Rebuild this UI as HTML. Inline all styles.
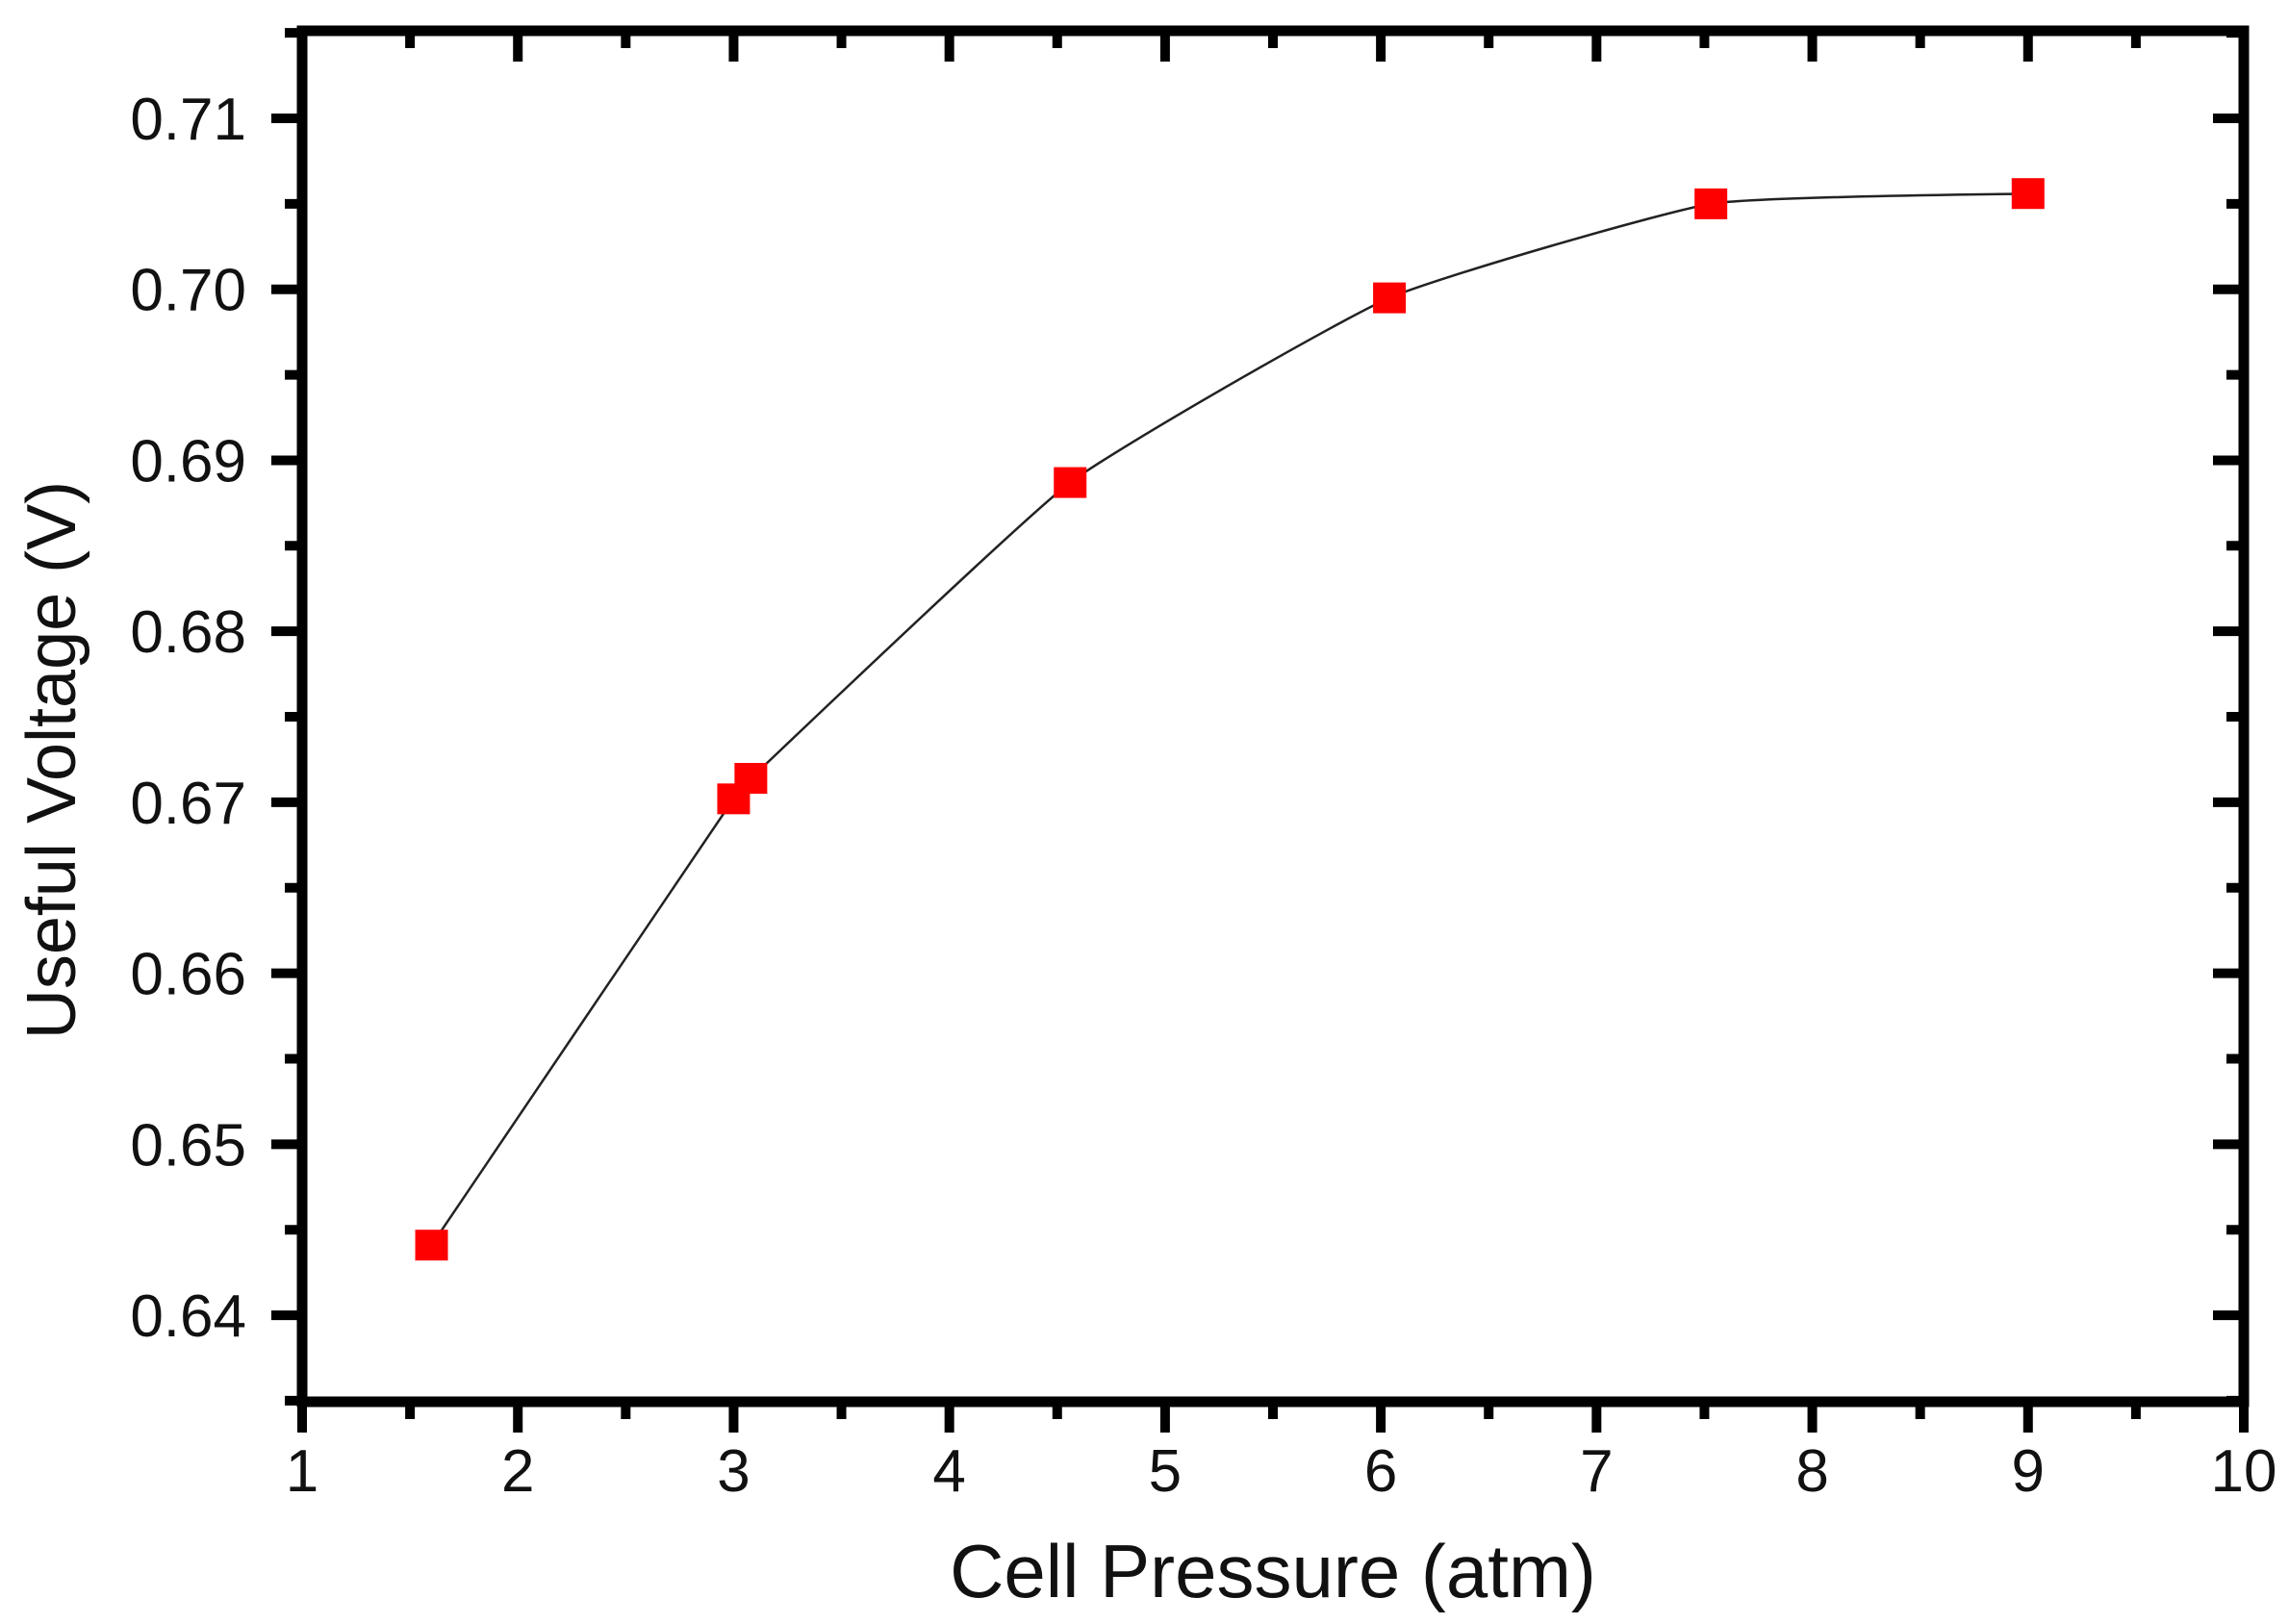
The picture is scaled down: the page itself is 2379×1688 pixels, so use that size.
<!DOCTYPE html>
<html><head><meta charset="utf-8"><style>
html,body{margin:0;padding:0;background:#fff;}
svg{display:block;}
text{font-family:"Liberation Sans",Arial,sans-serif;fill:#111;}
</style></head><body>
<svg id="chart" width="2379" height="1688" viewBox="0 0 2379 1688">
<g id="ticks"></g>
<g id="series"></g>
<rect x="314" y="32" width="2018" height="1425" fill="none" stroke="#000" stroke-width="11"/>
<text x="1323" y="1660" font-size="78" text-anchor="middle">Cell Pressure (atm)</text>
<text transform="translate(78,790) rotate(-90)" font-size="72" text-anchor="middle">Useful Voltage (V)</text>
</svg>
<script>
const xValues = [1.6, 3.0, 3.08, 4.56, 6.04, 7.53, 9.0];
const yValues = [0.6441, 0.6702, 0.6714, 0.6887, 0.6995, 0.7050, 0.7056];
const xTickLabels = ["1","2","3","4","5","6","7","8","9","10"];
const yTickLabels = ["0.64","0.65","0.66","0.67","0.68","0.69","0.70","0.71"];

const L=314,R=2332,T=32,B=1457;
const xMin=1,xMax=10,yMin=0.63494,yMax=0.71512;
function sx(v){return L+(v-xMin)/(xMax-xMin)*(R-L);}
function sy(v){return B-(v-yMin)/(yMax-yMin)*(B-T);}
const NS="http://www.w3.org/2000/svg";
const tg=document.getElementById('ticks');
const sg=document.getElementById('series');
function line(g,x1,y1,x2,y2,w,name){
  const l=document.createElementNS(NS,'line');
  l.setAttribute('x1',x1);l.setAttribute('y1',y1);l.setAttribute('x2',x2);l.setAttribute('y2',y2);
  l.setAttribute('stroke','#000');l.setAttribute('stroke-width',w);
  
  
  g.appendChild(l);return l;
}
for(let i=0;i<xTickLabels.length;i++){
  const v=parseFloat(xTickLabels[i]);const x=sx(v);
  line(tg,x,B,x,B+32,10,'x-major-tick');
  line(tg,x,T,x,T+32,10,'x-top-tick');
  const t=document.createElementNS(NS,'text');
  t.setAttribute('x',x);t.setAttribute('y',1550);t.setAttribute('font-size','62');t.setAttribute('text-anchor','middle');
  t.textContent=xTickLabels[i];
  
  
  tg.appendChild(t);
  if(i<xTickLabels.length-1){
    const xm=sx(v+0.5);
    line(tg,xm,B,xm,B+18,10,'x-minor-tick');
    line(tg,xm,T,xm,T+18,10,'x-top-minor-tick');
  }
}
for(let i=0;i<yTickLabels.length;i++){
  const v=parseFloat(yTickLabels[i]);const y=sy(v);
  line(tg,L-32,y,L,y,10,'y-major-tick');
  line(tg,R-32,y,R,y,10,'y-right-tick');
  const t=document.createElementNS(NS,'text');
  t.setAttribute('x',256);t.setAttribute('y',y+22);t.setAttribute('font-size','62');t.setAttribute('text-anchor','end');
  t.textContent=yTickLabels[i];
  
  
  tg.appendChild(t);
  const m=v+0.005;
  if(m<yMax){const ym=sy(m);line(tg,L-18,ym,L,ym,10,'y-minor-tick');line(tg,R-18,ym,R,ym,10,'y-right-minor-tick');}
}
{const ym=sy(0.635);if(ym<B){line(tg,L-18,ym,L,ym,10,'y-minor-tick');line(tg,R-18,ym,R,ym,10,'y-right-minor-tick');}}
const pts=xValues.map((x,i)=>[sx(x),sy(yValues[i])]);
let d='M'+pts[0][0]+','+pts[0][1];
for(let i=0;i<pts.length-1;i++){
  const p0=pts[Math.max(0,i-1)],p1=pts[i],p2=pts[i+1],p3=pts[Math.min(pts.length-1,i+2)];
  const c1=[p1[0]+(p2[0]-p0[0])/14,p1[1]+(p2[1]-p0[1])/14];
  const c2=[p2[0]-(p3[0]-p1[0])/14,p2[1]-(p3[1]-p1[1])/14];
  d+=' C'+c1[0]+','+c1[1]+' '+c2[0]+','+c2[1]+' '+p2[0]+','+p2[1];
}
const pl=document.createElementNS(NS,'path');
pl.setAttribute('d',d);
pl.setAttribute('fill','none');pl.setAttribute('stroke','#222');pl.setAttribute('stroke-width','2.5');


sg.appendChild(pl);
for(let i=0;i<xValues.length;i++){
  const r=document.createElementNS(NS,'rect');
  r.setAttribute('x',sx(xValues[i])-17);r.setAttribute('y',sy(yValues[i])-16);
  r.setAttribute('width',34);r.setAttribute('height',32);r.setAttribute('fill','#ff0000');
  
  
  sg.appendChild(r);
}
</script>
</body></html>
